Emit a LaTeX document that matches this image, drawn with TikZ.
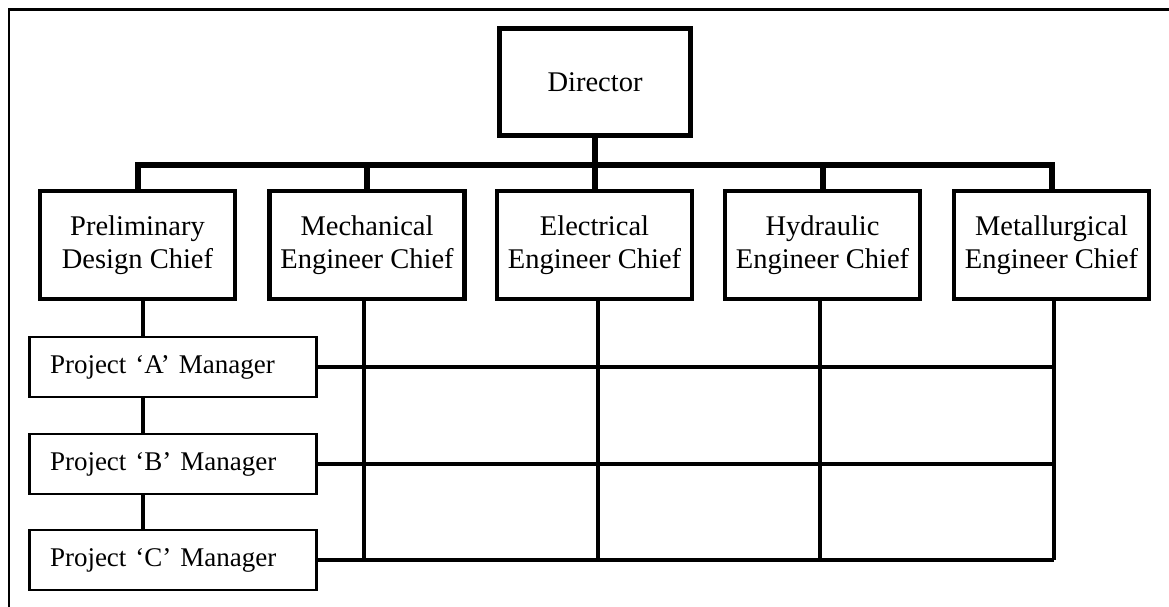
\documentclass[tikz,border=0pt]{standalone}
\usepackage{fontspec}
\setmainfont{Liberation Serif}
\begin{document}
\begin{tikzpicture}[x=1pt,y=-1pt,
  boxfont/.style={font=\fontsize{28.5}{33}\selectfont},
  projfont/.style={font=\fontsize{27}{33}\selectfont},
  chief/.style={draw, line width=4.5pt, minimum width=195pt, minimum height=108pt,
    inner sep=0pt, align=center, boxfont},
  topbox/.style={draw, line width=5pt, minimum width=191pt, minimum height=106pt,
    inner sep=0pt, align=center, boxfont},
  proj/.style={draw, line width=2.5pt, minimum width=287pt, minimum height=60pt,
    inner xsep=0pt, inner ysep=0pt, text width=246pt, align=left, projfont},
  bus/.style={line width=6pt, line join=miter},
  grid/.style={line width=4pt},
  link/.style={line width=3.5pt},
  frame/.style={line width=2.5pt}]
\useasboundingbox (0,0) rectangle (1169,607);
% frame
\draw[frame] (9,607) -- (9,9.5) -- (1169,9.5);
% nodes
\node[topbox] (dir) at (595,82) {Director};
\node[chief] (prel) at (137.5,245) {Preliminary\\Design Chief};
\node[chief] (mech) at (367,245) {Mechanical\\Engineer Chief};
\node[chief] (elec) at (594.5,245) {Electrical\\Engineer Chief};
\node[chief] (hyd) at (822.5,245) {Hydraulic\\Engineer Chief};
\node[chief] (met) at (1051.5,245) {Metallurgical\\Engineer Chief};
\node[proj] (pA) at (173,367) {Project `A' Manager};
\node[proj] (pB) at (173,464) {Project `B' Manager};
\node[proj] (pC) at (173,560) {Project `C' Manager};
% coordinates
\coordinate (busy) at (0,165);
\coordinate (lk) at (143,0);
\coordinate (gm) at (364,0);
\coordinate (ge) at (598,0);
\coordinate (gh) at (820,0);
\coordinate (gt) at (1054,0);
% bus
\draw[bus] (prel.north) -- (prel.north |- busy) -- (met.north |- busy) -- (met.north);
\draw[bus] (dir.south) -- (dir.south |- busy);
\draw[bus] (mech.north) -- (mech.north |- busy);
\draw[bus] (elec.north) -- (elec.north |- busy);
\draw[bus] (hyd.north) -- (hyd.north |- busy);
% links between preliminary and projects
\draw[link] (prel.south -| lk) -- (pA.north -| lk);
\draw[link] (pA.south -| lk) -- (pB.north -| lk);
\draw[link] (pB.south -| lk) -- (pC.north -| lk);
% matrix grid
\draw[grid] (mech.south -| gm) -- (pC.east -| gm);
\draw[grid] (elec.south -| ge) -- (pC.east -| ge);
\draw[grid] (hyd.south -| gh) -- (pC.east -| gh);
\draw[grid] (met.south -| gt) -- (pC.east -| gt);
\draw[grid] (pA.east) -- (pA.east -| gt);
\draw[grid] (pB.east) -- (pB.east -| gt);
\draw[grid] (pC.east) -- (pC.east -| gt);
\end{tikzpicture}
\end{document}
